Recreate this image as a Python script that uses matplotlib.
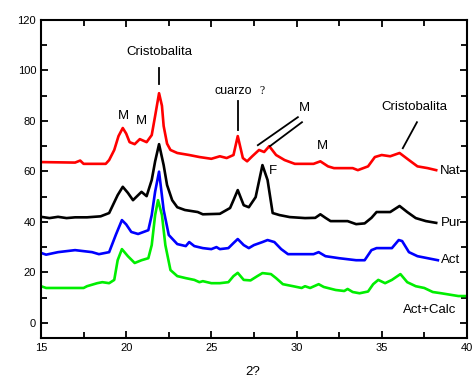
import matplotlib.pyplot as plt
import numpy as np

plt.rcParams['font.family'] = ['Liberation Sans', 'DejaVu Sans']

# Nat (rojo)
nat_x = [15.0, 17.0, 17.3, 17.5, 18.8, 19.0, 19.3, 19.55, 19.8, 20.0, 20.2, 20.5, 20.8, 21.2, 21.5, 21.7, 21.93,
         22.1, 22.2, 22.4, 22.6, 23.0, 23.7, 24.3, 25.0, 25.5, 25.9, 26.3, 26.55, 26.85, 27.1, 27.4, 27.8, 28.1,
         28.4, 28.8, 29.3, 29.9, 31.0, 31.4, 31.85, 32.2, 33.3, 33.6, 34.2, 34.6, 35.0, 35.5, 36.05, 36.6, 37.1,
         37.7, 38.2]
nat_y = [63.7, 63.5, 64.3, 63.0, 63.0, 64.5, 68.5, 74.0, 77.2, 75.0, 71.6, 70.8, 72.8, 71.6, 74.4, 82.0, 91.0,
         86.0, 78.0, 71.0, 68.5, 67.3, 66.5, 65.7, 65.0, 66.0, 65.3, 66.5, 74.0, 65.3, 64.0, 66.0, 68.5, 67.7,
         70.0, 66.5, 64.5, 63.0, 63.0, 64.0, 62.0, 61.3, 61.3, 60.5, 62.0, 65.7, 66.5, 66.0, 67.3, 64.5, 62.0,
         61.3, 60.5]

# Pur (negro)
pur_x = [15.0, 15.5, 16.0, 16.5, 17.0, 17.7, 18.5, 19.0, 19.5, 19.8, 20.1, 20.4, 20.9, 21.2, 21.5, 21.7, 21.93,
         22.2, 22.4, 22.7, 23.0, 23.45, 24.2, 24.5, 25.5, 26.1, 26.3, 26.55, 26.9, 27.2, 27.6, 28.0, 28.3, 28.6,
         29.0, 29.6, 30.5, 31.1, 31.4, 31.7, 32.0, 33.0, 33.5, 34.0, 34.4, 34.7, 35.5, 36.05, 36.5, 37.0, 37.6,
         38.2]
pur_y = [42.0, 41.5, 42.0, 41.5, 41.8, 41.8, 42.2, 43.5, 50.6, 53.9, 51.5, 48.6, 51.9, 50.2, 56.6, 64.0, 70.8,
         62.5, 54.6, 48.6, 45.8, 44.7, 43.9, 43.0, 43.2, 45.5, 48.6, 52.6, 46.6, 45.8, 49.8, 62.5, 56.6, 43.5,
         42.7, 41.9, 41.5, 41.6, 43.0, 41.6, 40.3, 40.3, 39.1, 39.4, 41.6, 43.9, 43.9, 46.3, 43.9, 41.5, 40.3,
         39.6]

# Act (azul)
act_x = [15.0, 15.3, 16.0, 17.0, 18.0, 18.4, 19.0, 19.4, 19.75, 20.0, 20.3, 20.7, 21.3, 21.5, 21.7, 21.93, 22.2,
         22.5, 23.0, 23.5, 23.7, 24.0, 24.5, 25.0, 25.3, 25.5, 26.0, 26.3, 26.55, 26.9, 27.2, 27.5, 28.0, 28.3,
         28.7, 29.1, 29.5, 30.0, 31.0, 31.3, 31.7, 32.5, 33.5, 34.0, 34.4, 34.7, 35.6, 36.0, 36.2, 36.6, 37.1,
         37.7, 38.3]
act_y = [27.7, 27.0, 28.0, 28.8, 28.0, 27.2, 28.0, 35.0, 40.7, 39.0, 36.0, 35.2, 36.7, 42.7, 52.0, 59.9, 44.7,
         34.8, 31.2, 30.4, 32.0, 30.4, 29.6, 29.2, 30.0, 29.2, 29.6, 31.6, 33.2, 30.8, 29.6, 30.8, 32.0, 32.8,
         32.0, 29.2, 27.2, 27.2, 27.2, 28.0, 26.4, 25.6, 24.8, 24.8, 28.8, 29.6, 29.6, 32.8, 32.4, 28.0, 26.4,
         25.6, 24.8]

# Act+Calc (verde)
calc_x = [15.0, 15.3, 17.5, 17.7, 18.3, 18.6, 19.0, 19.3, 19.5, 19.75, 20.1, 20.5, 20.9, 21.3, 21.5, 21.7, 21.87,
          22.1, 22.3, 22.6, 23.0, 23.5, 24.0, 24.3, 24.5, 25.0, 25.5, 26.0, 26.3, 26.55, 26.9, 27.3, 27.7, 28.0,
          28.5, 28.8, 29.2, 29.8, 30.3, 30.5, 30.8, 31.3, 31.6, 32.3, 32.8, 33.0, 33.3, 33.7, 34.2, 34.5, 34.8,
          35.2, 35.6, 36.1, 36.5, 37.0, 37.5, 38.0, 38.5, 39.5, 40.0]
calc_y = [14.5, 13.8, 13.8, 14.5, 15.7, 16.1, 15.7, 17.0, 24.8, 29.2, 26.4, 23.7, 24.8, 25.6, 30.8, 42.7, 48.6,
          42.7, 30.8, 20.9, 18.5, 17.7, 17.0, 16.1, 16.5, 15.7, 15.7, 16.1, 18.5, 19.8, 17.0, 16.8, 18.5, 19.7,
          19.3, 17.7, 15.3, 14.5, 13.8, 14.5, 13.8, 15.3, 14.2, 13.0, 12.6, 13.4, 12.2, 11.7, 12.4, 15.3, 17.0,
          15.7, 17.0, 19.3, 16.1, 14.5, 13.8, 12.2, 11.7, 10.6, 10.6]

fig = plt.figure(figsize=(4.73, 3.78), dpi=100)
ax = fig.add_axes([0.0867, 0.106, 0.9003, 0.841])

ax.plot(nat_x, nat_y, color='red', lw=1.9)
ax.plot(pur_x, pur_y, color='black', lw=1.9)
ax.plot(act_x, act_y, color='blue', lw=1.9)
ax.plot(calc_x, calc_y, color='#00ee00', lw=1.9)

ax.set_xlim(15, 40)
ax.set_ylim(-6, 120)
ax.set_xticks(np.arange(15, 41, 5))
ax.set_xticks(np.arange(15, 40, 2.5), minor=True)
ax.set_yticks(np.arange(0, 121, 20))
ax.set_yticks(np.arange(10, 120, 20), minor=True)
ax.tick_params(which='both', direction='in', top=True, right=True, width=1.3, labelsize=8)
ax.tick_params(which='major', length=5)
ax.tick_params(which='minor', length=4)
for s in ax.spines.values():
    s.set_linewidth(1.5)

fs = 9.5
ax.text(21.92, 107.3, 'Cristobalita', ha='center', va='center', fontsize=fs)
ax.plot([21.92, 21.92], [100.9, 94.6], color='black', lw=1.3)
ax.text(19.81, 81.9, 'M', ha='center', va='center', fontsize=fs)
ax.text(20.87, 79.9, 'M', ha='center', va='center', fontsize=fs)
ax.text(26.3, 91.8, 'cuarzo', ha='center', va='center', fontsize=fs - 0.5)
ax.text(28.0, 91.8, '?', ha='center', va='center', fontsize=fs - 1, family=['Liberation Serif'])
ax.plot([26.56, 26.56], [87.9, 76.3], color='black', lw=1.3)
ax.text(30.49, 85.1, 'M', ha='center', va='center', fontsize=fs)
ax.plot([27.73, 30.08], [70.4, 81.5], color='black', lw=1.3)
ax.plot([28.44, 30.32], [70.0, 79.5], color='black', lw=1.3)
ax.text(31.55, 70.0, 'M', ha='center', va='center', fontsize=fs)
ax.text(36.89, 85.5, 'Cristobalita', ha='center', va='center', fontsize=fs)
ax.plot([36.24, 37.07], [69.2, 79.5], color='black', lw=1.3)
ax.text(28.6, 60.1, 'F', ha='center', va='center', fontsize=fs)
ax.text(38.42, 60.1, 'Nat', ha='left', va='center', fontsize=fs)
ax.text(38.5, 39.5, 'Pur', ha='left', va='center', fontsize=fs)
ax.text(38.5, 24.9, 'Act', ha='left', va='center', fontsize=fs)
ax.text(37.83, 5.0, 'Act+Calc', ha='center', va='center', fontsize=fs)

fig.text(253 / 473, 1 - 372 / 378, '2?', ha='center', va='center', fontsize=fs)

fig.savefig('out.png', dpi=100)
